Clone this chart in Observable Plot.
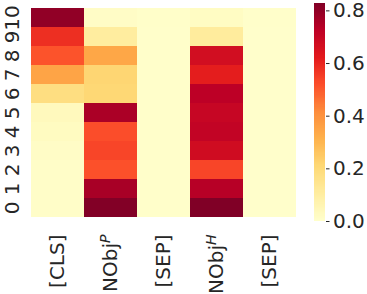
<!DOCTYPE html>
<html>
<head>
<meta charset="utf-8">
<script src="https://cdn.jsdelivr.net/npm/d3@7"></script>
<script src="https://cdn.jsdelivr.net/npm/@observablehq/plot@0.6"></script>
<style>
  html, body { margin: 0; padding: 0; background: #fff; }
  #wrap { position: relative; width: 367px; height: 294px; overflow: hidden; }
  #wrap svg { position: absolute; top: 0; }
</style>
</head>
<body>
<div id="wrap"></div>
<script>
// Row labels (bottom to top) and column labels
const rows = [0, 1, 2, 3, 4, 5, 6, 7, 8, 9, 10];
const columns = ["[CLS]", "NObj^P", "[SEP]", "NObj^H", "[SEP]"];

// Values per column, listed for rows 0..10
const clsValues   = [0.010, 0.010, 0.010, 0.015, 0.025, 0.035, 0.180, 0.350, 0.510, 0.580, 0.800];
const nobjPValues = [0.825, 0.760, 0.515, 0.535, 0.520, 0.755, 0.210, 0.215, 0.340, 0.105, 0.015];
const sep1Values  = [0.005, 0.005, 0.005, 0.005, 0.005, 0.005, 0.005, 0.005, 0.005, 0.005, 0.008];
const nobjHValues = [0.828, 0.735, 0.535, 0.675, 0.710, 0.700, 0.725, 0.615, 0.670, 0.110, 0.020];
const sep2Values  = [0.003, 0.003, 0.003, 0.003, 0.003, 0.003, 0.003, 0.003, 0.003, 0.003, 0.005];

const colorbarTicks = [0, 0.2, 0.4, 0.6, 0.8];

// YlOrRd colormap stops (piecewise-linear as in matplotlib)
const ylorrd = ["#ffffcc", "#ffeda0", "#fed976", "#feb24c", "#fd8d3c", "#fc4e2a", "#e31a1c", "#bd0026", "#800026"];

const seriesList = [clsValues, nobjPValues, sep1Values, nobjHValues, sep2Values];
const table = [];
seriesList.forEach((vals, ci) => vals.forEach((v, ri) => table.push({col: ci, row: rows[ri], value: v})));

const vmax = d3.max(table, d => d.value);
const vmin = 0;
const stops = ylorrd.map((_, i) => vmin + (vmax - vmin) * i / (ylorrd.length - 1));
const colorScale = {type: "linear", domain: stops, range: ylorrd, clamp: true};

const baseStyle = {fontFamily: "DejaVu Sans", fontSize: "20px", color: "#262626", background: "transparent", overflow: "visible"};

const main = Plot.plot({
  width: 300, height: 294,
  marginLeft: 30, marginRight: 3, marginTop: 3, marginBottom: 73,
  style: baseStyle,
  x: {type: "band", domain: columns.map((_, i) => i), padding: 0},
  y: {type: "band", domain: rows.slice().reverse(), padding: 0},
  color: colorScale,
  marks: [
    Plot.cell(table, {x: "col", y: "row", fill: "value", inset: 0, shapeRendering: "crispEdges"}),
    Plot.axisX({tickRotate: -90, tickSize: 0, tickPadding: 13, label: null, tickFormat: i => columns[i]}),
    Plot.axisY({tickRotate: -90, tickSize: 0, tickPadding: 12, label: null})
  ]
});

// superscripts in NObj^P / NObj^H
d3.select(main).selectAll("text").each(function() {
  const t = this.textContent;
  const m = /^(.*)\^(.)$/.exec(t);
  if (m) {
    const el = d3.select(this);
    el.text(null);
    el.append("tspan").text(m[1]);
    el.append("tspan").attr("font-style", "italic").attr("font-size", "70%").attr("dy", "-0.55em").text(m[2]);
  }
});

const nSteps = 200;
const steps = d3.range(nSteps).map(i => ({
  y1: vmin + (vmax - vmin) * i / nSteps,
  y2: vmin + (vmax - vmin) * (i + 1) / nSteps,
  v: vmin + (vmax - vmin) * (i + 0.5) / nSteps
}));

const bar = Plot.plot({
  width: 67, height: 294,
  marginLeft: 14, marginRight: 42, marginTop: 3, marginBottom: 73,
  style: baseStyle,
  y: {domain: [vmin, vmax]},
  color: colorScale,
  marks: [
    Plot.rect(steps, {y1: "y1", y2: "y2", fill: "v", inset: 0, shapeRendering: "crispEdges"}),
    Plot.axisY({anchor: "right", ticks: colorbarTicks, tickFormat: d3.format(".1f"), tickSize: 3.5, tickPadding: 4, label: null})
  ]
});

main.style.left = "0px";
bar.style.left = "300px";
document.getElementById("wrap").append(main, bar);
</script>
</body>
</html>
